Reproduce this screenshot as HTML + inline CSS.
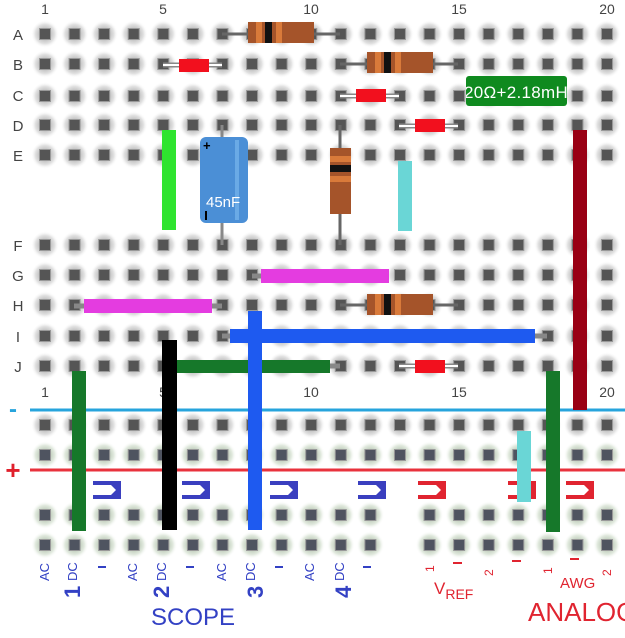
<!DOCTYPE html>
<html><head><meta charset="utf-8"><style>
html,body{margin:0;padding:0;background:#fff;width:625px;height:638px;overflow:hidden}
svg{display:block}
text{font-family:"Liberation Sans",sans-serif}
</style></head><body>
<svg id="s" width="625" height="638" viewBox="0 0 625 638" xmlns="http://www.w3.org/2000/svg">
<defs>
<radialGradient id="halo"><stop offset="0.3" stop-color="#b8b8b8"/><stop offset="0.7" stop-color="#e2e2e2"/><stop offset="1" stop-color="#ffffff" stop-opacity="0"/></radialGradient>
<radialGradient id="haloG"><stop offset="0.3" stop-color="#b9c7b5"/><stop offset="0.7" stop-color="#e2eadf"/><stop offset="1" stop-color="#ffffff" stop-opacity="0"/></radialGradient>
</defs>
<g id="holes"></g>
<g id="labels" fill="#444" font-size="14">
<text x="45" y="14" text-anchor="middle">1</text>
<text x="163" y="14" text-anchor="middle">5</text>
<text x="311" y="14" text-anchor="middle">10</text>
<text x="459" y="14" text-anchor="middle">15</text>
<text x="607" y="14" text-anchor="middle">20</text>
<g font-size="15">
<text x="18" y="40" text-anchor="middle">A</text>
<text x="18" y="70" text-anchor="middle">B</text>
<text x="18" y="101" text-anchor="middle">C</text>
<text x="18" y="131" text-anchor="middle">D</text>
<text x="18" y="161" text-anchor="middle">E</text>
<text x="18" y="251" text-anchor="middle">F</text>
<text x="18" y="281" text-anchor="middle">G</text>
<text x="18" y="311" text-anchor="middle">H</text>
<text x="18" y="342" text-anchor="middle">I</text>
<text x="18" y="372" text-anchor="middle">J</text>
</g>
<text x="45" y="397" text-anchor="middle">1</text>
<text x="163" y="397" text-anchor="middle">5</text>
<text x="311" y="397" text-anchor="middle">10</text>
<text x="459" y="397" text-anchor="middle">15</text>
<text x="607" y="397" text-anchor="middle">20</text>
</g>
<line x1="30" y1="410" x2="625" y2="410" stroke="#27a4dc" stroke-width="3"/>
<line x1="30" y1="470" x2="625" y2="470" stroke="#e8323c" stroke-width="3"/>
<text x="13" y="417" fill="#27a4dc" font-size="24" font-weight="bold" text-anchor="middle">-</text>
<text x="13" y="479" fill="#e0202c" font-size="26" font-weight="bold" text-anchor="middle">+</text>

<g stroke="#666" stroke-width="3">
<line x1="222" y1="34" x2="340" y2="34"/>
<line x1="340" y1="64" x2="458" y2="64"/>
<line x1="340" y1="125" x2="340" y2="245"/>
<line x1="340" y1="305" x2="458" y2="305"/>
</g>
<g stroke="#888" stroke-width="5" fill="none">
<line x1="163" y1="65" x2="222" y2="65"/>
<line x1="340" y1="96" x2="399" y2="96"/>
<line x1="399" y1="126" x2="458" y2="126"/>
<line x1="399" y1="366" x2="458" y2="366"/>
<line x1="74" y1="306" x2="222" y2="306"/>
<line x1="252" y1="276" x2="389" y2="276"/>
<line x1="222" y1="336" x2="547" y2="336"/>
<line x1="163" y1="366" x2="340" y2="366"/>
</g>
<g stroke="#fff" stroke-width="2">
<line x1="163" y1="65" x2="222" y2="65"/>
<line x1="340" y1="96" x2="399" y2="96"/>
<line x1="399" y1="126" x2="458" y2="126"/>
<line x1="399" y1="366" x2="458" y2="366"/>
</g>
<g>
<rect x="248" y="22" width="66" height="21" fill="#a5542a"/>
<rect x="256" y="22" width="6" height="21" fill="#d97a3a"/>
<rect x="265" y="22" width="7" height="21" fill="#111"/>
<rect x="276" y="22" width="6" height="21" fill="#d97a3a"/>
<rect x="367" y="52" width="66" height="21" fill="#a5542a"/>
<rect x="375" y="52" width="6" height="21" fill="#d97a3a"/>
<rect x="384" y="52" width="7" height="21" fill="#111"/>
<rect x="395" y="52" width="6" height="21" fill="#d97a3a"/>
<rect x="367" y="294" width="66" height="21" fill="#a5542a"/>
<rect x="375" y="294" width="6" height="21" fill="#d97a3a"/>
<rect x="384" y="294" width="7" height="21" fill="#111"/>
<rect x="395" y="294" width="6" height="21" fill="#d97a3a"/>
<rect x="330" y="148" width="21" height="66" fill="#a5542a"/>
<rect x="330" y="156" width="21" height="6" fill="#d97a3a"/>
<rect x="330" y="165" width="21" height="7" fill="#111"/>
<rect x="330" y="176" width="21" height="6" fill="#d97a3a"/>
</g>
<g fill="#f2101e">
<rect x="179" y="59" width="30" height="13"/>
<rect x="356" y="89" width="30" height="13"/>
<rect x="415" y="119" width="30" height="13"/>
<rect x="415" y="360" width="30" height="13"/>
</g>
<rect x="466" y="76" width="101" height="30" rx="3" fill="#0f8a1f"/>
<svg x="466" y="76" width="101" height="30"><text x="50" y="22" fill="#fff" font-size="17" text-anchor="middle" letter-spacing="0.3">20Ω+2.18mH</text></svg>
<line x1="222" y1="125" x2="222" y2="245" stroke="#888" stroke-width="3"/>
<rect x="200" y="137" width="48" height="86" rx="6" fill="#4b8fd6"/>
<rect x="235" y="140" width="4" height="80" fill="#6aaae6"/>
<text x="203" y="150" fill="#000" font-size="13" font-weight="bold">+</text>
<text x="206" y="207" fill="#fff" font-size="15">45nF</text>
<rect x="205" y="211" width="2" height="9" fill="#000"/>
<rect x="162" y="130" width="14" height="100" fill="#2fe42f"/>
<rect x="398" y="161" width="14" height="70" fill="#6ad6d6"/>
<rect x="573" y="130" width="14" height="280" fill="#990014"/>
<rect x="261" y="269" width="128" height="14" fill="#e43ce0"/>
<rect x="84" y="299" width="128" height="14" fill="#e43ce0"/>
<rect x="175" y="360" width="155" height="13" fill="#16782a"/>
<rect x="230" y="329" width="305" height="14" fill="#1e5af0"/>
<rect x="248" y="311" width="14" height="219" fill="#1e5af0"/>
<rect x="162" y="340" width="15" height="190" fill="#000"/>
<rect x="72" y="371" width="14" height="160" fill="#16782a"/>
<rect x="546" y="371" width="14" height="161" fill="#16782a"/>
<g id="hooks"></g>
<g fill="#3341c4" font-size="13">
<text transform="translate(49,581) rotate(-90)">AC</text>
<text transform="translate(77,581) rotate(-90)">DC</text>
<text transform="translate(137,581) rotate(-90)">AC</text>
<text transform="translate(166,581) rotate(-90)">DC</text>
<text transform="translate(226,581) rotate(-90)">AC</text>
<text transform="translate(255,581) rotate(-90)">DC</text>
<text transform="translate(314,581) rotate(-90)">AC</text>
<text transform="translate(344,581) rotate(-90)">DC</text>
<g font-size="22" font-weight="bold">
<text transform="translate(80,598) rotate(-90)">1</text>
<text transform="translate(169,598) rotate(-90)">2</text>
<text transform="translate(263,598) rotate(-90)">3</text>
<text transform="translate(351,598) rotate(-90)">4</text>
</g>
<rect x="98" y="566" width="8" height="2"/>
<rect x="186" y="566" width="8" height="2"/>
<rect x="275" y="566" width="8" height="2"/>
<rect x="363" y="566" width="8" height="2"/>
<text x="151" y="625" font-size="24">SCOPE</text>
</g>
<g fill="#e02430" font-size="12">
<text transform="translate(434,572) rotate(-90)">1</text>
<rect x="453" y="562" width="9" height="2"/>
<text transform="translate(493,576) rotate(-90)">2</text>
<rect x="512" y="560" width="9" height="2"/>
<text transform="translate(552,574) rotate(-90)">1</text>
<rect x="570" y="558" width="9" height="2"/>
<text transform="translate(611,576) rotate(-90)">2</text>
<text x="434" y="594" font-size="17">V<tspan font-size="14" dy="5">REF</tspan></text>
<text x="560" y="588" font-size="15">AWG</text>
<text x="528" y="621" font-size="26">ANALOG</text>
</g>
</svg>
<script>
const NS="http://www.w3.org/2000/svg";
const g=document.getElementById('holes');
const X=n=>45+29.58*(n-1);
function hole(x,y,gr){
 const c=document.createElementNS(NS,'circle');c.setAttribute('cx',x);c.setAttribute('cy',y);c.setAttribute('r',14);c.setAttribute('fill',gr?'url(#haloG)':'url(#halo)');g.appendChild(c);
 const r=document.createElementNS(NS,'rect');r.setAttribute('x',x-5.5);r.setAttribute('y',y-5.5);r.setAttribute('width',11);r.setAttribute('height',11);r.setAttribute('fill',gr?'#4f5460':'#555');r.setAttribute('stroke','#999');r.setAttribute('stroke-width','1');g.appendChild(r);
}
const rows=[34,64,96,125,155,245,275,305,336,366];
for(const y of rows)for(let n=1;n<=20;n++)hole(X(n),y,false);
for(let n=1;n<=20;n++)hole(X(n),425,false);
for(let n=1;n<=20;n++)hole(X(n),455,true);
for(const y of [515,545])for(let n=1;n<=20;n++){if(n==13)continue;hole(X(n),y,true);}
const h=document.getElementById('hooks');
function hook(x,col){
 const r=document.createElementNS(NS,'rect');r.setAttribute('x',x);r.setAttribute('y',481);r.setAttribute('width',28);r.setAttribute('height',18);r.setAttribute('fill',col);h.appendChild(r);
 const p=document.createElementNS(NS,'polygon');p.setAttribute('points',`${x},485 ${x+18},485 ${x+23},490 ${x+18},495 ${x},495`);p.setAttribute('fill','#fff');h.appendChild(p);
}
hook(93,'#3a3fbf');hook(182,'#3a3fbf');hook(270,'#3a3fbf');hook(358,'#3a3fbf');
hook(418,'#e02430');hook(508,'#e02430');hook(566,'#e02430');
const cy=document.createElementNS(NS,'rect');cy.setAttribute('x',517);cy.setAttribute('y',431);cy.setAttribute('width',14);cy.setAttribute('height',71);cy.setAttribute('fill','#6ad6d6');h.appendChild(cy);
</script>
</body></html>
